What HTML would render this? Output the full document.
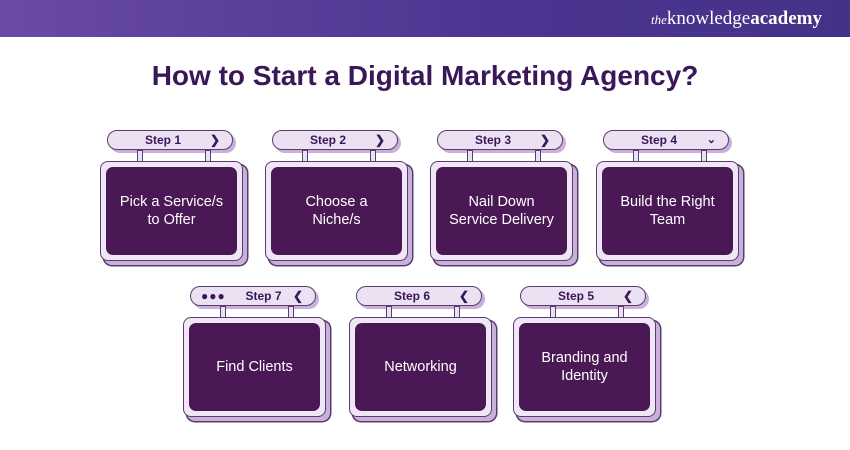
<!DOCTYPE html>
<html><head><style>
body{margin:0;width:850px;height:450px;background:#fff;font-family:"Liberation Sans",sans-serif;position:relative;overflow:hidden}
.hdr{position:absolute;left:0;top:0;width:850px;height:37px;background:linear-gradient(90deg,#6a4aa6,#4b3590 60%,#463188)}
.logo{position:absolute;right:28px;top:8px;color:#fff;font-family:"Liberation Serif",serif;font-size:19px}
.logo i{font-size:13px}
h1{position:absolute;top:60px;left:0;width:850px;text-align:center;margin:0;font-size:28px;color:#3a1758;font-weight:bold}
.c{position:absolute;width:150px;height:140px}
.pill{position:absolute;left:7px;top:0;width:124px;height:18px;background:#ebe1f3;border:1.5px solid #5a3d6e;border-radius:10px;box-shadow:3px 3px 0 #c9b0da;font-size:12px;font-weight:bold;color:#3a1758;line-height:18px}
.pill .t{position:absolute;left:0;width:110px;text-align:center}
.pill .a{position:absolute;right:12px;top:0}
.pill .d{position:absolute;left:10px;top:0;letter-spacing:1px}
.post{position:absolute;top:20px;width:4px;height:11px;background:#ebe1f3;border:1px solid #5a3d6e}
.fr{position:absolute;left:0;top:31px;width:141px;height:98px;background:#efe7f5;border:1.5px solid #5a3d6e;border-radius:8px;box-shadow:4px 4px 0 #c9b0da,4px 4px 0 1.5px #5a3d6e}
.in{position:absolute;left:5px;top:5px;right:5px;bottom:5px;background:#4a1855;border-radius:7px;color:#fff;font-size:14.5px;display:flex;align-items:center;justify-content:center;text-align:center;line-height:18px}
</style></head><body>
<div class="hdr"><div class="logo"><i>the</i>knowledge<b>academy</b></div></div>
<h1>How to Start a Digital Marketing Agency?</h1>

<div class="c" style="left:100px;top:130px"><div class="pill"><span class="t">Step 1</span><span class="a">&#x276F;</span></div><div class="post" style="left:37px"></div><div class="post" style="left:105px"></div><div class="fr"><div class="in">Pick a Service/s<br>to Offer</div></div></div>
<div class="c" style="left:265px;top:130px"><div class="pill"><span class="t">Step 2</span><span class="a">&#x276F;</span></div><div class="post" style="left:37px"></div><div class="post" style="left:105px"></div><div class="fr"><div class="in">Choose a<br>Niche/s</div></div></div>
<div class="c" style="left:430px;top:130px"><div class="pill"><span class="t">Step 3</span><span class="a">&#x276F;</span></div><div class="post" style="left:37px"></div><div class="post" style="left:105px"></div><div class="fr"><div class="in">Nail Down<br>Service Delivery</div></div></div>
<div class="c" style="left:596px;top:130px"><div class="pill"><span class="t">Step 4</span><span class="a" style="font-size:11px">&#x2304;</span></div><div class="post" style="left:37px"></div><div class="post" style="left:105px"></div><div class="fr"><div class="in">Build the Right<br>Team</div></div></div>

<div class="c" style="left:183px;top:286px"><div class="pill"><span class="d">&#9679;&#9679;&#9679;</span><span class="t" style="left:20px;width:105px">Step 7</span><span class="a">&#x276E;</span></div><div class="post" style="left:37px"></div><div class="post" style="left:105px"></div><div class="fr"><div class="in">Find Clients</div></div></div>
<div class="c" style="left:349px;top:286px"><div class="pill"><span class="t">Step 6</span><span class="a">&#x276E;</span></div><div class="post" style="left:37px"></div><div class="post" style="left:105px"></div><div class="fr"><div class="in">Networking</div></div></div>
<div class="c" style="left:513px;top:286px"><div class="pill"><span class="t">Step 5</span><span class="a">&#x276E;</span></div><div class="post" style="left:37px"></div><div class="post" style="left:105px"></div><div class="fr"><div class="in">Branding and<br>Identity</div></div></div>
</body></html>
